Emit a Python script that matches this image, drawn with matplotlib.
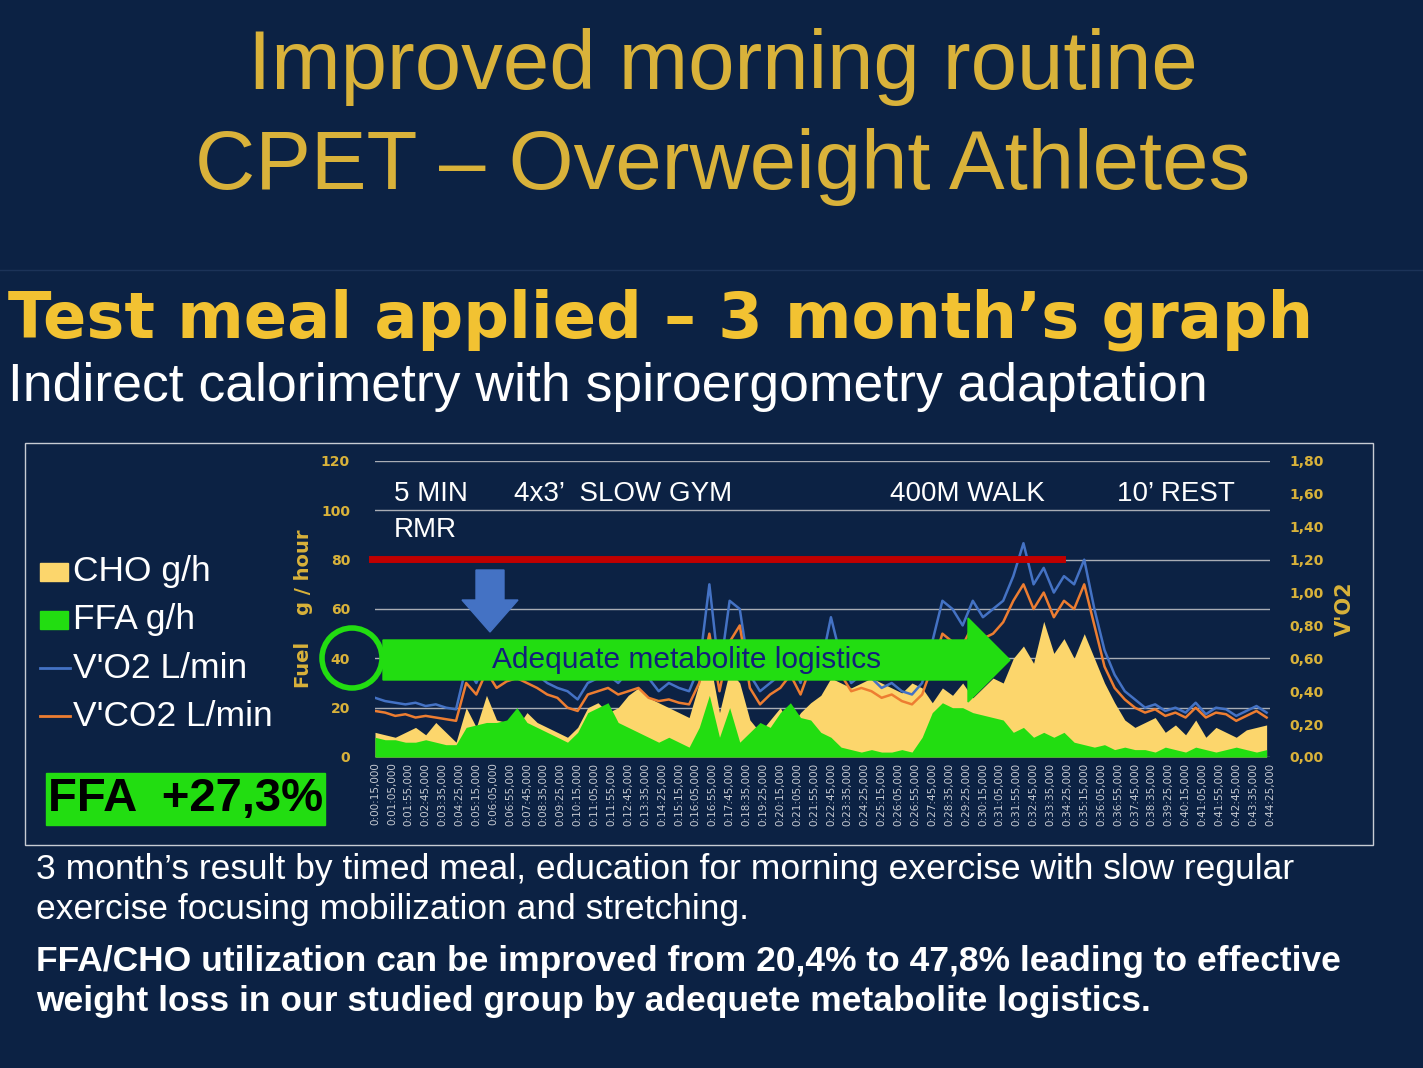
import matplotlib
matplotlib.use("Agg")
import numpy as np
import matplotlib.pyplot as plt
from matplotlib.patches import FancyArrow, Rectangle

# ---------- data ----------
step_s = 30
vo2 = [.36, .34, .33, .32, .33, .31, .32, .30, .29,
       .55, .45, .60, .50, .52, .62, .55, .50, .45, .42, .40,
       .35, .45, .48, .50, .45, .52, .50, .48, .40, .45, .42, .40,
       .55, 1.05, .50, .95, .90, .50,
       .40, .45, .50, .60, .45, .70, .55, .85,
       .60, .45, .50, .48, .42, .45, .40, .38, .45,
       .70, .95, .90, .80, .95, .85, .90, .95,
       1.10, 1.30, 1.05, 1.15, 1.00, 1.10, 1.05, 1.20,
       .90, .65, .50, .40, .35,
       .30, .32, .28, .30, .27, .33, .26, .30, .29, .25, .28, .31, .27]
vco2 = [.28, .27, .25, .26, .24, .25, .24, .23, .22,
        .45, .38, .52, .42, .46, .48, .45, .42, .38, .36, .30,
        .28, .38, .40, .42, .38, .40, .42, .36, .34, .35, .33, .32,
        .45, .75, .40, .70, .80, .42,
        .32, .38, .42, .50, .38, .55, .48, .70,
        .50, .40, .42, .40, .36, .38, .34, .32, .38,
        .55, .75, .70, .68, .80, .72, .75, .82,
        .95, 1.05, .90, 1.00, .85, .95, .90, 1.05,
        .80, .55, .42, .35, .30,
        .27, .29, .25, .27, .24, .30, .24, .27, .26, .22, .25, .28, .24]
cho = [10, 9, 8, 10, 12, 9, 14, 10, 6,
       20, 12, 25, 15, 14, 12, 18, 14, 12, 10, 8,
       12, 20, 22, 18, 20, 25, 28, 24, 22, 20, 18, 16,
       30, 40, 18, 35, 30, 15,
       10, 15, 20, 12, 18, 22, 25, 32,
       30, 28, 30, 32, 30, 28, 26, 30, 28,
       22, 28, 25, 30, 24, 28, 32, 30,
       40, 45, 38, 55, 42, 48, 40, 50,
       40, 30, 22, 15, 12,
       14, 16, 10, 13, 9, 15, 8, 12, 10, 8, 11, 12, 13]
ffa = [8, 7, 7, 6, 6, 7, 6, 5, 5,
       12, 13, 14, 14, 15, 20, 14, 12, 10, 8, 6,
       10, 18, 20, 22, 14, 12, 10, 8, 6, 8, 6, 4,
       12, 25, 8, 20, 6, 10,
       14, 12, 18, 22, 16, 15, 10, 8,
       4, 3, 2, 3, 2, 2, 3, 2, 8,
       18, 22, 20, 20, 18, 17, 16, 15,
       10, 12, 8, 10, 8, 10, 6, 5,
       4, 5, 3, 4, 3,
       3, 2, 4, 3, 2, 4, 3, 2, 3, 4, 3, 2, 3]
t = 15 + step_s * np.arange(len(vo2))

tick_sec = np.arange(15, 2666, 50)
tick_labels = ["%d:%02d:%02d,000" % (s // 3600, (s % 3600) // 60, s % 60) for s in tick_sec]
left_ticks = [0, 20, 40, 60, 80, 100, 120]
right_labels = ["0,00", "0,20", "0,40", "0,60", "0,80", "1,00", "1,20", "1,40", "1,60", "1,80"]

BG = "#0c2244"
GOLD = "#d9b23a"
GOLD2 = "#f2c232"
YEL = "#fcd66c"
GRN = "#22dd11"
BLUE = "#4472c4"
ORNG = "#ed7d31"

W, H = 1423, 1068
fig = plt.figure(figsize=(W / 100, H / 100), dpi=100, facecolor=BG)

def fx(px):
    return px / W

def fy(py):
    return 1 - py / H

# ---------- slide text ----------
fig.text(0.508, fy(67), "Improved morning routine", color=GOLD, fontsize=60,
         ha="center", va="center", family="Liberation Sans")
fig.text(0.508, fy(167), "CPET – Overweight Athletes", color=GOLD, fontsize=60,
         ha="center", va="center", family="Liberation Sans")
fig.add_artist(plt.Line2D([0, 1], [fy(270), fy(270)], color="#1c3358", lw=1))
fig.text(fx(8), fy(320), "Test meal applied – 3 month’s graph", color=GOLD2,
         fontsize=46, fontweight="heavy", ha="left", va="center", family="DejaVu Sans")
fig.text(fx(8), fy(387), "Indirect calorimetry with spiroergometry adaptation", color="white",
         fontsize=38.5, ha="left", va="center", family="Liberation Sans")
fig.text(fx(36), fy(870), "3 month’s result by timed meal, education for morning exercise with slow regular",
         color="white", fontsize=25.5, ha="left", va="center", family="Liberation Sans")
fig.text(fx(36), fy(909), "exercise focusing mobilization and stretching.",
         color="white", fontsize=25.5, ha="left", va="center", family="Liberation Sans")
fig.text(fx(36), fy(962), "FFA/CHO utilization can be improved from 20,4% to 47,8% leading to effective",
         color="white", fontsize=25.5, fontweight="bold", ha="left", va="center", family="Liberation Sans")
fig.text(fx(36), fy(1001), "weight loss in our studied group by adequete metabolite logistics.",
         color="white", fontsize=25.5, fontweight="bold", ha="left", va="center", family="Liberation Sans")

# chart frame
fig.add_artist(Rectangle((fx(25), fy(845)), fx(1373 - 25), fy(443) - fy(845),
                         fill=False, ec="#c8ccd4", lw=1, transform=fig.transFigure))

# legend on the left
leg = [("CHO g/h", YEL, "box"), ("FFA g/h", GRN, "box"),
       ("V'O2 L/min", BLUE, "line"), ("V'CO2 L/min", ORNG, "line")]
for k, (lab, col, kind) in enumerate(leg):
    y = 572 + 48 * k
    if kind == "box":
        fig.add_artist(Rectangle((fx(40), fy(y + 9)), fx(28), fy(y - 9) - fy(y + 9),
                                 color=col, transform=fig.transFigure))
    else:
        fig.add_artist(plt.Line2D([fx(40), fx(70)], [fy(y), fy(y)], color=col, lw=2))
    fig.text(fx(73), fy(y), lab, color="white", fontsize=25.5, va="center",
             family="Liberation Sans")
fig.add_artist(Rectangle((fx(46), fy(825)), fx(279), fy(773) - fy(825),
                         color=GRN, transform=fig.transFigure))
fig.text(fx(48), fy(799), "FFA  +27,3%", color="black", fontsize=34, fontweight="bold",
         va="center", family="Liberation Sans")

# ---------- chart ----------
ax = fig.add_axes([fx(375), fy(757), fx(1270 - 375), fy(461) - fy(757)])
ax.set_facecolor(BG)
ax.set_xlim(15, 2665)
ax.set_ylim(0, 120)
ax.fill_between(t, 0, cho, color=YEL, lw=0, zorder=2)
ax.fill_between(t, 0, ffa, color=GRN, lw=0, zorder=3)
for yv in left_ticks:
    ax.axhline(yv, color="#a9adb5", lw=1, zorder=1)
ax.set_yticks(left_ticks)
ax.tick_params(axis="y", colors=GOLD, labelsize=10, length=0, pad=18)
for lb in ax.get_yticklabels():
    lb.set_fontweight("bold")
ax.set_xticks(tick_sec)
ax.set_xticklabels(tick_labels, rotation=90, fontsize=7.5, color="#c8ccd4")
ax.tick_params(axis="x", length=0, pad=4)
for s in ax.spines.values():
    s.set_visible(False)
ax.set_ylabel("Fuel    g / hour", color=GOLD, fontsize=14, fontweight="bold", labelpad=6)

ax2 = ax.twinx()
ax2.set_ylim(0, 1.8)
ax2.plot(t, vo2, color=BLUE, lw=1.8, zorder=4)
ax2.plot(t, vco2, color=ORNG, lw=1.8, zorder=5)
ax2.set_yticks(np.arange(0, 1.81, 0.2))
ax2.set_yticklabels(right_labels)
ax2.tick_params(axis="y", colors=GOLD, labelsize=10, length=0, pad=14)
for lb in ax2.get_yticklabels():
    lb.set_fontweight("bold")
for s in ax2.spines.values():
    s.set_visible(False)
ax2.set_ylabel("V'O2", color=GOLD, fontsize=15, fontweight="bold", labelpad=8)

# annotations in the chart
ax2.plot([fx(372), fx(1062)], [fy(559), fy(559)], transform=fig.transFigure,
         color="#c00000", lw=5, zorder=6, clip_on=False)
for txt, px, py in [("5 MIN", 394, 494), ("RMR", 394, 530), ("4x3’  SLOW GYM", 514, 494),
                    ("400M WALK", 890, 494), ("10’ REST", 1117, 494)]:
    fig.text(fx(px), fy(py), txt, color="white", fontsize=20, va="center",
             family="Liberation Sans", zorder=10)
fig.add_artist(FancyArrow(fx(490), fy(570), 0, fy(632) - fy(570), width=fx(28),
                          head_width=fx(56), head_length=fy(600) - fy(632),
                          length_includes_head=True, color=BLUE, transform=fig.transFigure))
fig.add_artist(FancyArrow(fx(383), fy(660), fx(1010 - 383), 0, width=fy(640) - fy(680),
                          head_width=fy(618) - fy(702), head_length=fx(42),
                          length_includes_head=True, color=GRN, transform=fig.transFigure))
fig.text(fx(687), fy(660), "Adequate metabolite logistics", color="#12207a", fontsize=21.5,
         ha="center", va="center", family="Liberation Sans")
circ = plt.Circle((352, H - 658), 30, fill=False, ec=GRN, lw=4, transform=None)
fig.add_artist(circ)

fig.savefig("out.png", dpi=100, facecolor=BG)
